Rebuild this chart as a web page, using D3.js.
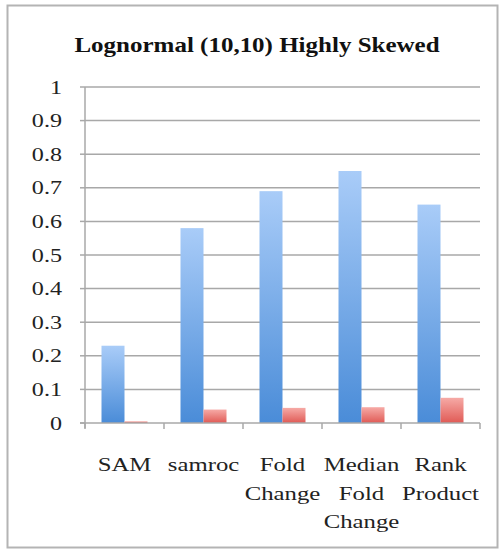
<!DOCTYPE html>
<html>
<head>
<meta charset="utf-8">
<script src="https://cdn.jsdelivr.net/npm/d3@7/dist/d3.min.js"></script>
<style>
  html, body { margin: 0; padding: 0; background: #fff; }
  svg { display: block; }
</style>
</head>
<body>
<svg id="chart" width="500" height="550"></svg>
<script>
// Methods compared and the two proportions shown per method
const categories = [["SAM"], ["samroc"], ["Fold", "Change"], ["Median", "Fold", "Change"], ["Rank", "Product"]];
const seriesA = [0.23, 0.58, 0.69, 0.75, 0.65];
const seriesB = [0.005, 0.04, 0.045, 0.047, 0.075];
const yTicks = [0, 0.1, 0.2, 0.3, 0.4, 0.5, 0.6, 0.7, 0.8, 0.9, 1];
const titleText = "Lognormal (10,10) Highly Skewed";

const svg = d3.select("#chart");
const plot = { left: 85, right: 480, top: 87, bottom: 423 };
const serif = "'Liberation Serif', 'Times New Roman', serif";
const stretch = 1.27;

// outer frame
svg.append("rect")
  .attr("x", 7.5).attr("y", 5.5).attr("width", 490).attr("height", 542)
  .attr("fill", "#fff").attr("stroke", "#b4b4b4").attr("stroke-width", 2);

// vertical gradients for the bar fills
const defs = svg.append("defs");
function grad(id, top, bottom) {
  const g = defs.append("linearGradient").attr("id", id)
    .attr("x1", 0).attr("y1", 0).attr("x2", 0).attr("y2", 1);
  g.append("stop").attr("offset", "0%").attr("stop-color", top);
  g.append("stop").attr("offset", "100%").attr("stop-color", bottom);
}
grad("gA", "#a9ccf8", "#4a8cd8");
grad("gB", "#f6aaa6", "#e05a55");

const idx = d3.range(categories.length);
const x = d3.scaleBand().domain(idx).range([plot.left, plot.right]);
const y = d3.scaleLinear().domain([0, 1]).range([plot.bottom, plot.top]);
const barW = 23;

// horizontal gridlines
svg.append("g").selectAll("line").data(yTicks.filter(t => t > 0)).join("line")
  .attr("x1", plot.left).attr("x2", plot.right)
  .attr("y1", d => y(d)).attr("y2", d => y(d))
  .attr("stroke", "#a8a8a8").attr("stroke-width", 1.5);

// y-axis line and small ticks to the left
svg.append("line").attr("x1", plot.left).attr("x2", plot.left)
  .attr("y1", plot.top).attr("y2", plot.bottom + 5)
  .attr("stroke", "#a8a8a8").attr("stroke-width", 1.5);
svg.append("g").selectAll("line").data(yTicks).join("line")
  .attr("x1", plot.left - 5).attr("x2", plot.left)
  .attr("y1", d => y(d)).attr("y2", d => y(d))
  .attr("stroke", "#a8a8a8").attr("stroke-width", 1.5);

// y tick labels
svg.append("g").selectAll("text").data(yTicks).join("text")
  .attr("transform", d => `translate(62,${y(d) + 6.5}) scale(${stretch},1)`)
  .attr("text-anchor", "end")
  .attr("font-family", serif).attr("font-size", 19).attr("fill", "#222")
  .text(d => d === 0 ? "0" : d === 1 ? "1" : d3.format(".1f")(d));

// bars
const bars = svg.append("g");
bars.selectAll("rect.a").data(seriesA).join("rect").attr("class", "a")
  .attr("x", (d, i) => x(i) + x.bandwidth() / 2 - barW)
  .attr("width", barW)
  .attr("y", d => y(d)).attr("height", d => y(0) - y(d))
  .attr("fill", "url(#gA)");
bars.selectAll("rect.b").data(seriesB).join("rect").attr("class", "b")
  .attr("x", (d, i) => x(i) + x.bandwidth() / 2)
  .attr("width", barW)
  .attr("y", d => y(d)).attr("height", d => y(0) - y(d))
  .attr("fill", "url(#gB)");

// x axis baseline with ticks at category boundaries
svg.append("line").attr("x1", plot.left - 5).attr("x2", plot.right)
  .attr("y1", plot.bottom).attr("y2", plot.bottom)
  .attr("stroke", "#a8a8a8").attr("stroke-width", 1.5);
svg.append("g").selectAll("line").data(d3.range(categories.length + 1)).join("line")
  .attr("x1", i => plot.left + i * x.bandwidth()).attr("x2", i => plot.left + i * x.bandwidth())
  .attr("y1", plot.bottom).attr("y2", plot.bottom + 6)
  .attr("stroke", "#a8a8a8").attr("stroke-width", 1.5);

// category labels (multi-line)
const catG = svg.append("g");
categories.forEach((lines, i) => {
  lines.forEach((t, k) => {
    catG.append("text")
      .attr("transform", `translate(${x(i) + x.bandwidth() / 2},${471 + k * 28.5}) scale(${stretch},1)`)
      .attr("text-anchor", "middle")
      .attr("font-family", serif).attr("font-size", 19.5).attr("fill", "#222")
      .text(t);
  });
});

// title
svg.append("text")
  .attr("transform", `translate(257,52) scale(1.19,1)`)
  .attr("text-anchor", "middle")
  .attr("font-family", serif).attr("font-weight", "bold").attr("font-size", 21).attr("fill", "#111")
  .text(titleText);
</script>
</body>
</html>
